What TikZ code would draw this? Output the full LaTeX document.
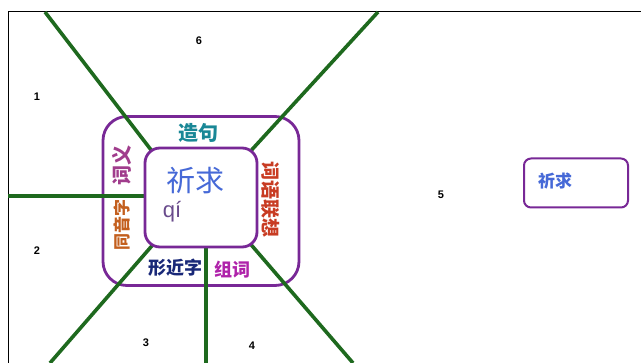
\documentclass[tikz,border=0pt]{standalone}
\usepackage{fontspec}
\setmainfont{Liberation Sans}
\newfontfamily\cjk{Noto Sans CJK SC}
\definecolor{gline}{RGB}{30,105,30}
\definecolor{pbox}{RGB}{120,40,150}
\definecolor{cblue}{RGB}{70,105,215}
\definecolor{pinyin}{RGB}{105,75,140}
\definecolor{teal2}{RGB}{25,135,150}
\definecolor{navy2}{RGB}{25,40,120}
\definecolor{mag2}{RGB}{175,35,170}
\definecolor{plum2}{RGB}{160,60,140}
\definecolor{orng2}{RGB}{195,95,30}
\definecolor{red2}{RGB}{200,60,35}
\begin{document}
\begin{tikzpicture}[x=1pt,y=-1pt,
  gl/.style={draw=gline,line width=3.6pt},
  pb/.style={draw=pbox,line width=2.8pt,rounded corners=#1},
  num/.style={font=\fontsize{11}{11}\selectfont\bfseries,inner sep=0pt},
  word/.style={font=\cjk\bfseries\fontsize{#1}{#1}\selectfont,inner sep=0pt}]
\useasboundingbox (0,0) rectangle (641,363);
% frame
\coordinate (fTL) at (8,12);
\coordinate (fTR) at (641,12);
\coordinate (fBL) at (8,363);
\draw[line width=1pt] (fTR) -- (fTL) -- (fBL);
% outer box
\node[pb=24pt,minimum width=196pt,minimum height=169pt,inner sep=0pt] (outer) at (201,201) {};
% inner box position
\coordinate (ic) at (201,197.5);
% free ends
\coordinate (t1) at (45,12);
\coordinate (t2) at (378,12);
\coordinate (l0) at (8,196);
\coordinate (b1) at (50,363);
\coordinate (b2) at (206,363);
\coordinate (b3) at (353,363);
\node[minimum width=112pt,minimum height=99pt,inner sep=0pt] (innerpos) at (ic) {};
\draw[gl] (t1) -- ([shift={(10,7)}]innerpos.north west);
\draw[gl] (t2) -- ([shift={(-10,7)}]innerpos.north east);
\draw[gl] (l0) -- ([shift={(4,0)}]innerpos.west |- l0);
\draw[gl] (b1) -- ([shift={(12,-7)}]innerpos.south west);
\draw[gl] (b2) -- ([shift={(0,-4)}]innerpos.south -| b2);
\draw[gl] (b3) -- ([shift={(-10,-7)}]innerpos.south east);
% inner box
\node[pb=15pt,fill=white,minimum width=112pt,minimum height=99pt,inner sep=0pt] (inner) at (ic) {};
\node[font=\cjk\fontsize{29}{29}\selectfont,text=cblue,inner sep=0pt] (qq) at (195,181) {祈求};
\node[font=\fontsize{22}{22}\selectfont,text=pinyin,inner sep=0pt] (py) at (172,212) {qí};
% words
\node[word=20,text=teal2] (zj) at (198,133) {造句};
\node[word=19,text=red2,rotate=-90] (cylx) at (271,200) {词语联想};
\node[word=20,text=plum2,rotate=90] (cy) at (122,166) {词义};
\node[word=17,text=orng2,rotate=90] (tyz) at (122,225) {同音字};
\node[word=18,text=navy2] (xjz) at (175,268) {形近字};
\node[word=18,text=mag2] (zc) at (232,270) {组词};
% numbers
\node[num] (n6) at (199,41) {6};
\node[num] (n1) at (37,97) {1};
\node[num] (n2) at (37,251) {2};
\node[num] (n3) at (146,343) {3};
\node[num] (n4) at (252,346) {4};
\node[num] (n5) at (441,195) {5};
% right box
\node[pb=7pt,line width=2pt,minimum width=104pt,minimum height=49pt,inner sep=0pt] (rb) at (576,183) {};
\node[word=17,text=cblue,anchor=west] (rq) at (538,181) {祈求};
\end{tikzpicture}
\end{document}
